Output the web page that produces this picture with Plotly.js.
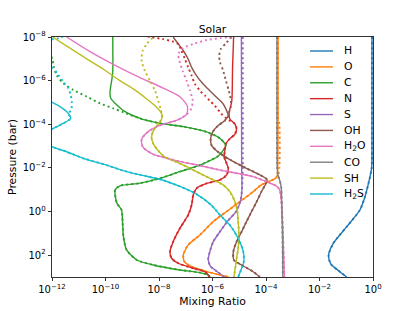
<!DOCTYPE html>
<html><head><meta charset="utf-8">
<script src="https://cdn.plot.ly/plotly-3.0.1.min.js"></script>
<style>html,body{margin:0;padding:0;background:#fff}#chart{width:415px;height:311px}</style>
</head><body><div id="chart"></div>
<script>
// Species, legend labels and colours
const species = ['H','O','C','N','S','OH','H2O','CO','SH','H2S'];
const labels  = ['H','O','C','N','S','OH','H<sub>2</sub>O','CO','SH','H<sub>2</sub>S'];
const colors  = ['#1f77b4','#ff7f0e','#2ca02c','#d62728','#9467bd','#8c564b','#e377c2','#7f7f7f','#bcbd22','#17becf'];

// Tick labels
const xTickVals = [1e-12,1e-10,1e-8,1e-6,1e-4,1e-2,1];
const xTickText = ['10<sup>−12</sup>','10<sup>−10</sup>','10<sup>−8</sup>','10<sup>−6</sup>','10<sup>−4</sup>','10<sup>−2</sup>','10<sup>0</sup>'];
const yTickVals = [1e-8,1e-6,1e-4,1e-2,1,1e2];
const yTickText = ['10<sup>−8</sup>','10<sup>−6</sup>','10<sup>−4</sup>','10<sup>−2</sup>','10<sup>0</sup>','10<sup>2</sup>'];

// Profiles: log10 pressure (bar) and log10 mixing ratio (solid lines)
const H_p = [-8,-2.3,-2.0,-1.6,-1.29,-0.68,-0.07,0.69,1.45,2.0,2.4,2.7,3.0];
const H_x = [-0.04,-0.04,-0.05,-0.11,-0.17,-0.3,-0.49,-0.98,-1.48,-1.66,-1.58,-1.3,-0.98];

const O_p = [-8,-4,-2,-1.7,-1.55,-1.45,-1.37,-1.2,-0.91,-0.45,0,0.46,1.07,1.53,1.99,2.3,2.53,2.75,3.0];
const O_x = [-3.55,-3.55,-3.56,-3.57,-3.62,-3.75,-3.92,-4.2,-4.48,-4.98,-5.47,-5.97,-6.47,-6.91,-7.09,-7.05,-6.78,-6.22,-5.4];

const C_p = [-8,-6.4,-6.0,-5.5,-5.2,-4.96,-4.6,-4.27,-4.05,-3.89,-3.65,-3.35,-3.02,-2.8,-2.56,-2.13,-1.83,-1.52,-1.3,-1.18,-1.0,-0.4,-0.07,0.54,1.15,1.76,2.22,2.45,2.68,2.8,2.91,3.0];
const C_x = [-9.73,-9.73,-9.77,-9.83,-9.81,-9.64,-9.3,-8.71,-8.0,-7.1,-6.22,-5.72,-5.5,-5.6,-5.77,-6.47,-7.22,-7.97,-8.71,-9.46,-9.64,-9.58,-9.4,-9.36,-9.33,-9.21,-8.83,-8.21,-7.21,-6.47,-6.16,-6.09];

const N_p = [-8,-6.6,-5.06,-4.5,-4.24,-4.01,-3.78,-3.55,-3.33,-3.1,-2.79,-2.49,-2.29,-1.98,-1.68,-1.45,-1.29,-1.06,-0.76,-0.3,0.16,0.77,1.38,1.84,2.14,2.37,2.6,2.76,2.91,3.0];
const N_x = [-5.21,-5.25,-5.28,-5.38,-5.35,-5.16,-5.1,-5.16,-5.36,-5.5,-5.54,-5.56,-5.5,-5.41,-5.47,-5.72,-6.22,-6.6,-6.72,-6.78,-6.91,-7.22,-7.47,-7.59,-7.53,-7.28,-6.72,-6.28,-6.16,-6.12];

const S_p = [-8,-2,-1,-0.5,0,0.46,0.92,1.38,1.84,2.2,2.5,2.76,3.0];
const S_x = [-4.92,-4.91,-4.9,-4.95,-5.12,-5.45,-5.72,-5.97,-6.1,-6.16,-6.08,-5.82,-5.56];

const OH_p = [-8,-7.68,-7.37,-6.99,-6.61,-6.23,-5.85,-5.54,-5.24,-4.93,-4.62,-4.39,-4.17,-3.94,-3.63,-3.33,-3.02,-2.79,-2.56,-2.29,-1.98,-1.68,-1.45,-0.91,-0.45,0.0,0.46,0.92,1.38,1.84,2.22,2.45,2.76,3.0];
const OH_x = [-7.47,-7.28,-7.09,-6.91,-6.78,-6.6,-6.35,-6.1,-5.85,-5.6,-5.47,-5.41,-5.54,-5.79,-6.0,-6.07,-6.03,-5.85,-5.6,-5.22,-4.73,-4.23,-3.96,-4.17,-4.35,-4.54,-4.73,-4.91,-5.1,-5.22,-5.2,-4.91,-4.48,-4.23];

const H2O_p = [-8,-7.33,-6.55,-6.15,-5.72,-5.26,-4.83,-4.45,-4.2,-3.95,-3.65,-3.3,-2.95,-2.62,-2.45,-2.29,-2.1,-1.9,-1.6,-1.4,-1.3,-1.2,-1.02,-0.56,0.5,2.0,3.0];
const H2O_x = [-11.45,-10.58,-9.4,-8.73,-7.95,-7.22,-6.94,-6.97,-7.3,-7.97,-8.42,-8.65,-8.6,-8.21,-7.72,-7.2,-6.45,-5.72,-4.48,-4.05,-3.85,-3.65,-3.5,-3.43,-3.38,-3.34,-3.31];

const CO_p = [-8,-4,-2,-1.71,-1.4,-1.1,-0.25,1.27,3.0];
const CO_x = [-3.59,-3.59,-3.58,-3.56,-3.48,-3.43,-3.41,-3.38,-3.37];

const SH_p = [-8,-7,-6.5,-6.0,-5.62,-5.16,-4.78,-4.47,-4.24,-4.01,-3.71,-3.4,-3.1,-2.79,-2.5,-2.3,-2.06,-1.75,-1.45,-1.22,-0.91,-0.45,0,0.46,1.07,1.69,2.14,2.6,3.0];
const SH_x = [-11.98,-10.7,-10.05,-9.46,-8.96,-8.46,-8.09,-7.9,-7.9,-8.03,-8.21,-8.28,-8.21,-8.03,-7.78,-7.4,-6.97,-6.47,-5.97,-5.6,-5.35,-5.16,-5.07,-5.04,-5.01,-5.04,-5.1,-5.15,-5.2];

const H2S_p = [-8,-5.3,-5.01,-4.81,-4.5,-4.27,-4.04,-3.78,-3.4,-2.97,-2.74,-2.44,-2.13,-1.9,-1.68,-1.48,-1.15,-0.8,-0.3,0.16,0.62,1.23,1.84,2.3,2.6,3.0];
const H2S_x = [-13,-12.5,-12.0,-11.7,-11.39,-11.3,-11.58,-12.0,-12.6,-12.0,-11.45,-10.83,-9.96,-9.4,-8.71,-7.97,-7.22,-6.6,-6.05,-5.72,-5.35,-5.04,-4.85,-4.83,-4.91,-5.04];

// Dotted lines: upper parts that differ; below the last listed pressure they follow the solid profile
const Odot_p = [-8,-4.3,-4.0,-2.0,-1.75];
const Odot_x = [-3.55,-3.55,-3.5,-3.5,-3.53];
const Cdot_p = [-8,-7.3,-6.95,-6.64,-6.26,-5.88,-5.57,-5.27,-4.96,-4.73,-4.55];
const Cdot_x = [-12.6,-12.1,-11.98,-11.93,-11.83,-11.58,-11.2,-10.7,-10.21,-9.71,-9.33];
const Ndot_p = [-8.1,-8.0,-7.9,-7.8,-7.68,-7.37,-6.99,-6.61,-6.23,-5.85,-5.54,-5.31,-5.08,-4.85,-4.47,-4.24];
const Ndot_x = [-8.8,-8.3,-7.85,-7.5,-7.28,-7.16,-7.03,-6.91,-6.78,-6.66,-6.47,-6.28,-6.1,-5.91,-5.66,-5.45];
const Sdot_p = [-8,-2,-1.2];
const Sdot_x = [-4.87,-4.87,-4.89];
const OHdot_p = [-8,-7.71,-7.45,-7.14,-6.84,-6.46,-6.0,-5.54,-5.08,-4.78,-4.47];
const OHdot_x = [-5.29,-5.5,-5.69,-5.75,-5.72,-5.6,-5.5,-5.39,-5.31,-5.32,-5.4];
const H2Odot_p = [-8.05,-8.0,-7.95,-7.86,-7.68,-7.5,-7.22,-6.92,-6.46,-6.0,-5.54,-5.08,-4.7];
const H2Odot_x = [-5.1,-5.38,-5.72,-6.22,-6.72,-7.09,-7.28,-7.24,-7.12,-6.97,-6.84,-6.74,-6.8];
const SHdot_p = [-8.1,-8.0,-7.68,-7.37,-6.92,-6.46,-6.0,-5.54,-5.08,-4.7];
const SHdot_x = [-8.1,-8.21,-8.46,-8.61,-8.65,-8.53,-8.34,-8.15,-8.03,-7.94];
const H2Sdot_p = [-8.1,-7.95,-7.85,-7.3,-6.64,-6.26,-5.95,-5.65,-5.34,-5.04,-4.65];
const H2Sdot_x = [-11.4,-11.75,-12.1,-12.6,-12.0,-11.76,-11.58,-11.39,-11.3,-11.26,-11.28];

const solidP = [H_p,O_p,C_p,N_p,S_p,OH_p,H2O_p,CO_p,SH_p,H2S_p];
const solidX = [H_x,O_x,C_x,N_x,S_x,OH_x,H2O_x,CO_x,SH_x,H2S_x];
const dotP = [[],Odot_p,Cdot_p,Ndot_p,Sdot_p,OHdot_p,H2Odot_p,[],SHdot_p,H2Sdot_p];
const dotX = [[],Odot_x,Cdot_x,Ndot_x,Sdot_x,OHdot_x,H2Odot_x,[],SHdot_x,H2Sdot_x];

const pow10 = a => a.map(v => Math.pow(10, v));
const FONT = 'DejaVu Sans, sans-serif';
const traces = [];
species.forEach((s, i) => {
  traces.push({
    x: pow10(solidX[i]), y: pow10(solidP[i]), type: 'scatter', mode: 'lines', name: s,
    line: {color: colors[i], width: 1.4, shape: 'spline', smoothing: 0.7}, showlegend: false
  });
});
species.forEach((s, i) => {
  const tp = dotP[i], tx = dotX[i];
  const last = tp.length ? tp[tp.length - 1] : -Infinity;
  const p = tp.slice(), x = tx.slice();
  solidP[i].forEach((v, k) => { if (v > last) { p.push(v); x.push(solidX[i][k]); } });
  traces.push({
    x: pow10(x), y: pow10(p), type: 'scatter', mode: 'lines', name: s + ' (dotted)',
    line: {color: colors[i], width: 1.9, dash: '2px,3px', shape: 'spline', smoothing: 0.7}, showlegend: false
  });
});

// Legend drawn as annotations + short line shapes (paper coordinates)
const shapes = [], annotations = [];
const legTop = 0.9417, legStep = 0.0662;
labels.forEach((lab, i) => {
  const yy = legTop - i * legStep;
  shapes.push({type: 'line', xref: 'paper', yref: 'paper', x0: 0.8037, x1: 0.8754, y0: yy, y1: yy,
    line: {color: colors[i], width: 1.4}});
  annotations.push({xref: 'paper', yref: 'paper', x: 0.9034, y: yy, xanchor: 'left', yanchor: 'middle',
    text: lab, showarrow: false, font: {family: FONT, size: 10.8, color: '#000'}});
});

const axisCommon = {
  type: 'log', showgrid: false, zeroline: false, showline: true, mirror: true,
  linecolor: '#000', linewidth: 0.8, ticks: 'outside', ticklen: 3.5, tickwidth: 0.8, tickcolor: '#000',
  tickfont: {family: FONT, size: 10, color: '#000'}
};

const layout = {
  width: 415, height: 311,
  margin: {l: 52, r: 42, t: 37, b: 34, pad: 0},
  paper_bgcolor: '#fff', plot_bgcolor: '#fff',
  font: {family: FONT, color: '#000'},
  title: {text: 'Solar', font: {family: FONT, size: 10.8, color: '#000'}, x: 0.512, xanchor: 'center',
          y: 0.905, yref: 'container', yanchor: 'middle'},
  xaxis: Object.assign({}, axisCommon, {
    range: [-12, 0], tickvals: xTickVals, ticktext: xTickText,
    title: {text: 'Mixing Ratio', font: {family: FONT, size: 10.8, color: '#000'}, standoff: 2}
  }),
  yaxis: Object.assign({}, axisCommon, {
    range: [3, -8], tickvals: yTickVals, ticktext: yTickText,
    title: {text: 'Pressure (bar)', font: {family: FONT, size: 10.8, color: '#000'}, standoff: 3}
  }),
  showlegend: false,
  shapes: shapes,
  annotations: annotations
};

Plotly.newPlot('chart', traces, layout, {staticPlot: true, displayModeBar: false});
</script>
</body></html>
